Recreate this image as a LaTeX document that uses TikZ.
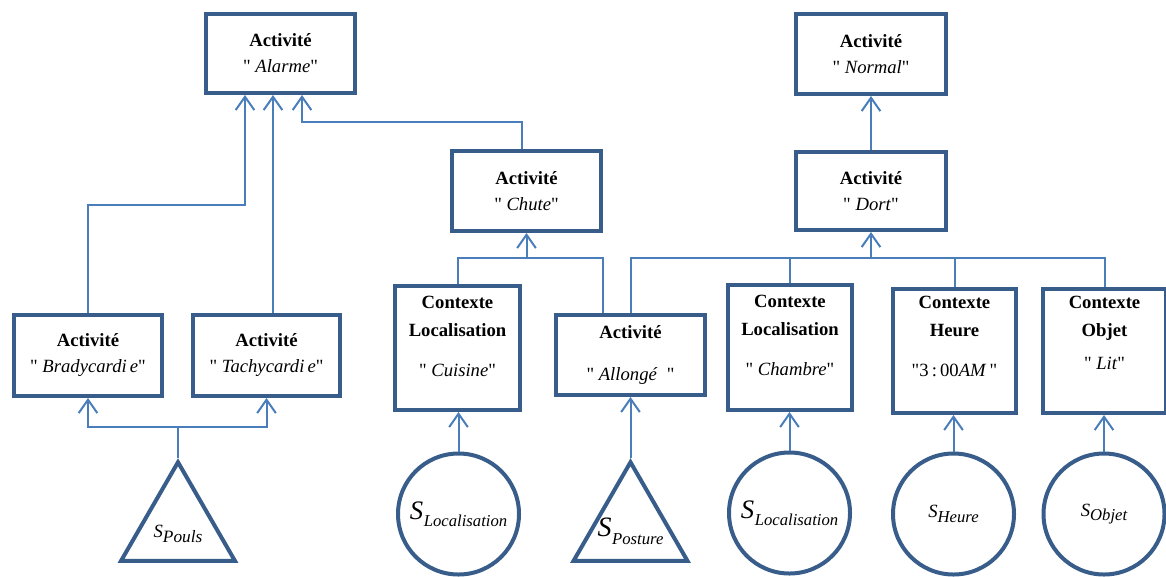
\documentclass[tikz,border=0pt]{standalone}
\usepackage{fontspec}
\setmainfont{Liberation Serif}[Ligatures=TeXOff]
\usetikzlibrary{arrows.meta,shapes.geometric,calc}
\definecolor{boxc}{HTML}{385D8A}
\definecolor{linec}{HTML}{4A7EBB}
\newcommand{\sensl}[5]{{\fontsize{#1}{#1}\selectfont\itshape S}\kern#5\raisebox{-#3}{\fontsize{#2}{#2}\selectfont\itshape #4}}
\newcommand{\qq}{\char34\relax}
\tikzset{
  box/.style 2 args={draw=boxc, line width=3pt, inner sep=0pt, minimum width=#1*0.75pt, minimum height=#2*0.75pt, align=center, font=\fontsize{14}{19.5}\selectfont},
  ctx/.style={inner sep=0pt, align=center, anchor=north, font=\fontsize{14}{21}\selectfont},
  sensc/.style={draw=boxc, line width=3pt, circle, inner sep=0pt, minimum size=90.75pt},
  senst/.style={draw=boxc, line width=3pt, regular polygon, regular polygon sides=3, inner sep=0pt, minimum size=98.7pt},
  lbl/.style={inner sep=0pt},
  conn/.style={draw=linec, line width=1.5pt},
  arr/.style={-{Straight Barb[length=10pt,width=14pt]}}
}
\begin{document}
\begin{tikzpicture}[x=0.75pt,y=-0.75pt]
\useasboundingbox (0,0) rectangle (1166,576);
% boxes
\node[box={149}{79}] (alarme) at (280.5,53.5) {\textbf{Activité}\\\qq\ \textit{Alarme}\qq};
\node[box={149}{80}] (chute) at (526.5,191) {\textbf{Activité}\\\qq\ \textit{Chute}\qq};
\node[box={150}{80}] (normal) at (871,54) {\textbf{Activité}\\\qq\ \textit{Normal}\qq};
\node[box={150}{78}] (dort) at (871,191) {\textbf{Activité}\\\qq\ \textit{Dort}\qq};
\node[box={148}{81}] (brady) at (88,355.5) {\textbf{Activité}\\\qq\ \textit{Bradycardi\,e}\qq};
\node[box={147}{81}] (tachy) at (266.5,355.5) {\textbf{Activité}\\\qq\ \textit{Tachycardi\,e}\qq};
\node[box={149}{80}] (allonge) at (630.5,355) {\textbf{Activité}\\[12pt]\qq\ \textit{Allongé}\ \ \qq};
\node[box={125}{124}] (cuisine) at (457.5,348) {};
\node[box={124}{125}] (chambre) at (790,347.5) {};
\node[box={123}{124}] (heure) at (954.5,351) {};
\node[box={123}{124}] (objet) at (1104.5,351) {};
\node[ctx] (cuisineT) at ($(cuisine.north)+(0,12)$) {\textbf{Contexte}\\\textbf{Localisation}\\[9pt]\qq\ \textit{Cuisine}\qq};
\node[ctx] (chambreT) at ($(chambre.north)+(0,12)$) {\textbf{Contexte}\\\textbf{Localisation}\\[9pt]\qq\ \textit{Chambre}\qq};
\node[ctx] (heureT) at ($(heure.north)+(0,9)$) {\textbf{Contexte}\\\textbf{Heure}\\[9pt]\qq3\,:\,00\textit{AM}\,\qq};
\node[ctx] (objetT) at ($(objet.north)+(0,9)$) {\textbf{Contexte}\\\textbf{Objet}\\[4pt]\qq\ \textit{Lit}\qq};
% sensors
\node[senst] (pouls) at (178,528) {};
\node[lbl] (poulsL) at ($(pouls.center)+(0,6)$) {\sensl{14pt}{13pt}{3.5pt}{Pouls}{0pt}};
\node[senst] (posture) at (630.5,528) {};
\node[lbl] (postureL) at ($(posture.center)+(0,3)$) {\sensl{21pt}{12.5pt}{6pt}{Posture}{0.5pt}};
\node[sensc] (sloc1) at (458.5,514) {\sensl{20pt}{12.5pt}{5pt}{Localisation}{0.5pt}};
\node[sensc] (sloc2) at (789.5,513) {\sensl{20pt}{12.5pt}{5pt}{Localisation}{0.5pt}};
\node[sensc] (sheure) at (953.5,514) {\sensl{14pt}{12.5pt}{3.5pt}{Heure}{0pt}};
\node[sensc] (sobjet) at (1104,514) {\sensl{14pt}{12.5pt}{3.5pt}{Objet}{0pt}};
% connectors to Alarme
\draw[conn,arr] (brady.north) |- ($(alarme.south)+(-35.5,110)$) -- ($(alarme.south)+(-35.5,0)$);
\draw[conn,arr] ($(tachy.north)+(6.5,0)$) -- ($(alarme.south)+(-7.5,0)$);
\draw[conn,arr] ($(chute.north)+(-4.5,0)$) |- ($(alarme.south)+(21.5,27)$) -- ($(alarme.south)+(21.5,0)$);
% connectors to Chute
\coordinate (cj) at ($(chute.south)+(0,25)$);
\draw[conn,arr] (cuisine.north) |- (cj) -- (chute.south);
\draw[conn] ($(allonge.north)+(-28,0)$) |- (cj);
% connectors to Dort
\coordinate (dj) at ($(dort.south)+(0,26)$);
\draw[conn,arr] (allonge.north) |- (dj) -- (dort.south);
\draw[conn] (chambre.north) |- (dj);
\draw[conn] (heure.north) |- (dj);
\draw[conn] (objet.north) |- (dj);
\draw[conn,arr] (dort.north) -- (normal.south);
% sensors to boxes
\coordinate (pj) at ($(pouls.corner 1)+(0,-31)$);
\draw[conn] (pouls.corner 1) -- (pj);
\draw[conn,arr] (pj) -| (brady.south);
\draw[conn,arr] (pj) -| (tachy.south);
\draw[conn,arr] (posture.corner 1) -- (allonge.south);
\draw[conn,arr] (sloc1.north) -- (cuisine.south -| sloc1.north);
\draw[conn,arr] (sloc2.north) -- (chambre.south -| sloc2.north);
\draw[conn,arr] (sheure.north) -- (heure.south -| sheure.north);
\draw[conn,arr] (sobjet.north) -- (objet.south -| sobjet.north);
\end{tikzpicture}
\end{document}
